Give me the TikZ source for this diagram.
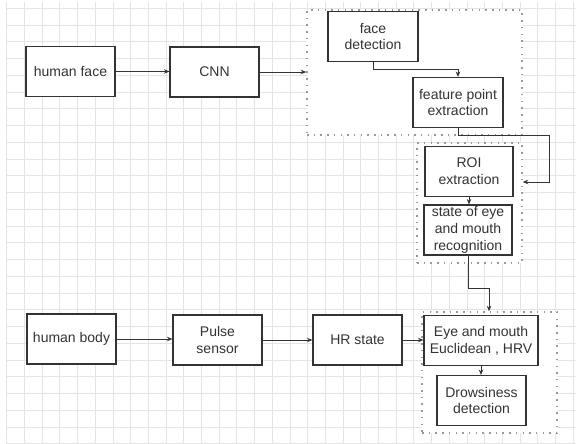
\documentclass[tikz,border=0pt]{standalone}
\usepackage{fontspec}
\setmainfont{Liberation Sans}
\usepackage{xcolor}
\usepackage{tikz}
\usetikzlibrary{positioning, arrows.meta}
\definecolor{inkgray}{HTML}{333333}
\definecolor{gridgray}{HTML}{E4E4E4}
\definecolor{dotgray}{HTML}{999999}

\begin{document}
\begin{tikzpicture}[x=1pt, y=-1pt,
  box/.style={draw=inkgray, line width=1.1pt, fill=white, text=inkgray, align=center,
    inner sep=0pt, minimum width=89pt, minimum height=50pt,
    font=\fontsize{14}{16.7}\selectfont},
  group/.style={draw=dotgray, line width=1.5pt, dash pattern=on 1.5pt off 5.2pt,
    fill=white, inner sep=0pt},
  link/.style={draw=inkgray, line width=0.9pt, -{Stealth[length=5.5pt,width=4.5pt]}},
  gridline/.style={draw=gridgray, line width=0.8pt}]
  \useasboundingbox (0,0) rectangle (576,444);
  \fill[white] (0,0) rectangle (576,444);
  % background grid
  \foreach \i in {0,...,32}
    \draw[gridline] ({6.7+17.7*\i},2) -- ({6.7+17.7*\i},444);
  \foreach \j in {0,...,26}
    \draw[gridline] (6.7,{8.3+16.75*\j}) -- (576,{8.3+16.75*\j});

  % face branch
  \node[box] (face) at (70.5,71.5) {human face};
  \node[box] (cnn) at (214.5,72) {CNN};
  \node[group, minimum width=215pt, minimum height=125pt] (g1) at (414.5,72.5) {};
  \node[box, minimum width=90pt] (detect) at (373,36.5) {face\\detection};
  \node[box, minimum width=90pt] (feature) at (458,102.5) {feature point\\extraction};
  \node[group, minimum width=105pt, minimum height=120pt] (g2) at (469.5,203) {};
  \node[box, minimum width=88pt] (roi) at (469,171.5) {ROI\\extraction};
  \node[box, minimum width=88pt] (state) at (468,230) {state of eye\\and mouth\\recognition};

  % body branch
  \node[box] (body) at (71.5,339) {human body};
  \node[box] (pulse) at (217.5,340) {Pulse\\sensor};
  \node[box] (hr) at (357.5,340) {HR state};
  \node[group, minimum width=135pt, minimum height=121pt] (g3) at (489.5,372.5) {};
  \node[box, minimum width=114pt] (eye) at (481,340.5) {Eye and mouth\\Euclidean , HRV};
  \node[box] (drowsy) at (481.5,400.5) {Drowsiness\\detection};

  \coordinate (turn2) at (549,182);
  \coordinate (turn3) at (489,288);

  % connectors
  \draw[link] (face.east) -- (face.east -| cnn.west);
  \draw[link] (cnn.east) -- (cnn.east -| g1.west);
  \draw[link] (detect.south) -- ++(0,7) -| (feature.north);
  \draw[link] (feature.south) -- ++(0,7) -| (turn2) -- (turn2 -| g2.east);
  \draw[link] (roi.south) -- (roi.south |- state.north);
  \draw[link] (state.south) |- (turn3) -- (turn3 |- g3.north);
  \draw[link] (body.east) -- (body.east -| pulse.west);
  \draw[link] (pulse.east) -- (pulse.east -| hr.west);
  \draw[link] (hr.east) -- (hr.east -| eye.west);
  \draw[link] (eye.south) -- (eye.south |- drowsy.north);
\end{tikzpicture}
\end{document}
